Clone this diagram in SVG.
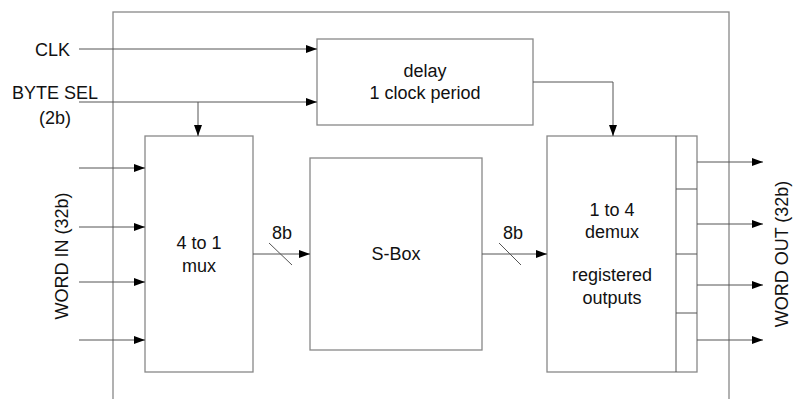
<svg xmlns="http://www.w3.org/2000/svg" width="793" height="399" viewBox="0 0 793 399">
<style>
text{font-family:"Liberation Sans",Arial,sans-serif;font-size:18px;fill:#111}
.box{fill:#fff;stroke:#888;stroke-width:1.3}
.ln{fill:none;stroke:#555;stroke-width:1}
.ar{marker-end:url(#ah)}
.m{text-anchor:middle}
</style>
<defs>
<marker id="ah" markerWidth="12" markerHeight="8" refX="11" refY="4" orient="auto" markerUnits="userSpaceOnUse">
<path d="M0,0 L11,4 L0,8 Z" fill="#000"/>
</marker>
</defs>
<rect id="frame" x="113" y="12" width="616" height="400" fill="none" stroke="#888" stroke-width="1.3"/>
<g id="delay"><rect class="box" x="317" y="39" width="216" height="86"/><text class="m" x="425" y="77">delay</text><text class="m" x="425" y="99">1 clock period</text></g>
<g id="mux"><rect class="box" x="145" y="136" width="108" height="236"/><text class="m" x="199" y="249">4 to 1</text><text class="m" x="199" y="272">mux</text></g>
<g id="sbox"><rect class="box" x="310" y="158" width="172" height="192"/><text class="m" x="396" y="260">S-Box</text></g>
<g id="demux"><rect class="box" x="547" y="136" width="150" height="236"/>
<path class="ln" d="M676,136 V372 M676,189 H697 M676,254 H697 M676,313 H697" stroke="#888"/>
<text class="m" x="612" y="216">1 to 4</text><text class="m" x="612" y="238">demux</text><text class="m" x="612" y="281">registered</text><text class="m" x="612" y="304">outputs</text></g>
<g id="labels">
<text x="35" y="56">CLK</text>
<text x="12" y="99">BYTE SEL</text>
<text x="39" y="124">(2b)</text>
<text class="m" transform="translate(68,256) rotate(-90)">WORD IN (32b)</text>
<text class="m" transform="translate(788,254) rotate(-90)">WORD OUT (32b)</text>
<text class="m" x="282" y="239">8b</text>
<text class="m" x="513" y="239">8b</text>
</g>
<g id="connectors">
<path class="ln ar" d="M79,49 H317"/>
<path class="ln ar" d="M79,102 H317"/>
<path class="ln ar" d="M198,102 V136"/>
<path class="ln ar" d="M533,82 H613 V136"/>
<path class="ln ar" d="M79,168 H145"/>
<path class="ln ar" d="M79,227 H145"/>
<path class="ln ar" d="M79,282 H145"/>
<path class="ln ar" d="M79,340 H145"/>
<path class="ln ar" d="M253,254 H310"/>
<path class="ln ar" d="M482,254 H547"/>
<path class="ln" d="M269,243 L292,265 M499,243 L521,265"/>
<path class="ln ar" d="M697,162 H763"/>
<path class="ln ar" d="M697,224 H763"/>
<path class="ln ar" d="M697,285 H763"/>
<path class="ln ar" d="M697,340 H763"/>
</g>
</svg>
